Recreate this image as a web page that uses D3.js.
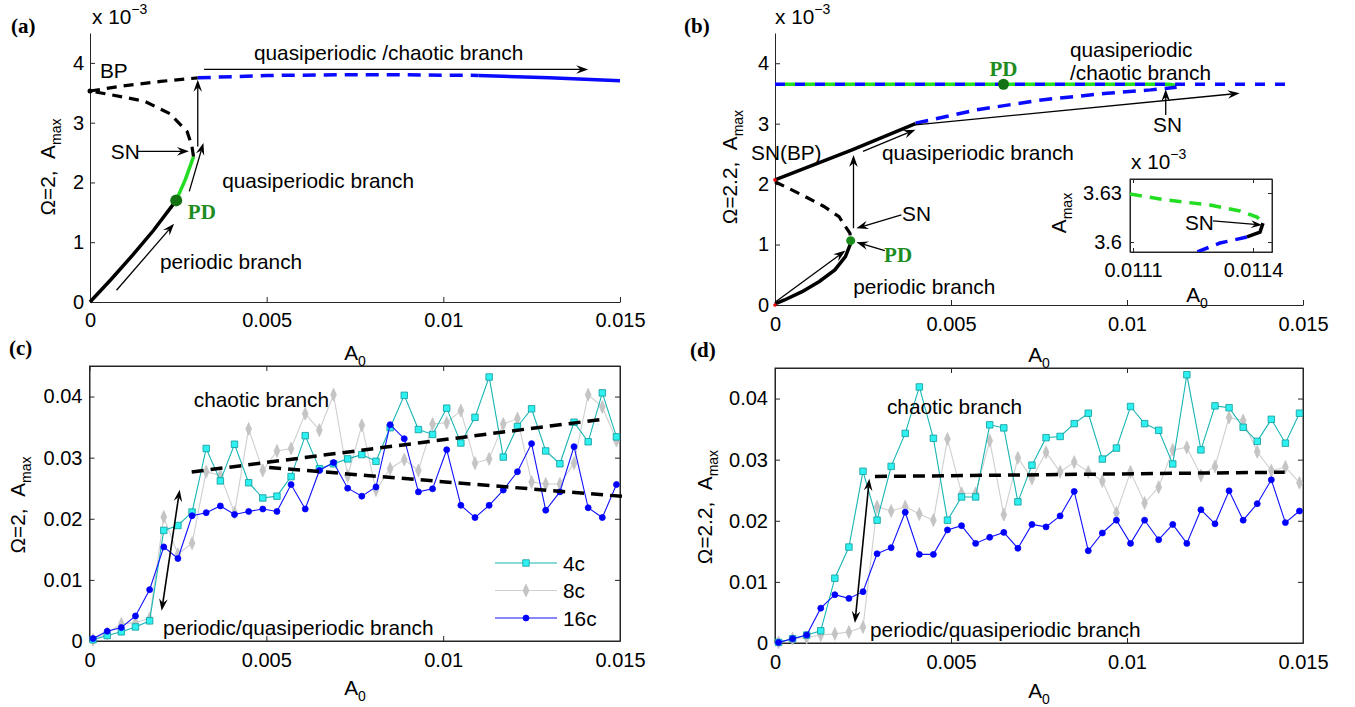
<!DOCTYPE html>
<html>
<head>
<meta charset="utf-8">
<script src="https://cdn.jsdelivr.net/npm/d3@7/dist/d3.min.js"></script>
<style>
  body { margin: 0; background: #fff; }
  svg { display: block; font-family: "Liberation Sans", Arial, sans-serif; }
  .tick text { font-size: 20px; fill: #000; font-family: "Liberation Sans", Arial, sans-serif; }
  .axis path, .axis line { stroke: #262626; }
  .note { font-size: 20.8px; fill: #000; }
  .plabel { font-family: "Liberation Serif", "Times New Roman", serif; font-weight: bold; font-size: 21px; }
  .pd { font-family: "Liberation Serif", "Times New Roman", serif; font-weight: bold; font-size: 21px; fill: #1e8c1e; }
</style>
</head>
<body>
<svg id="chart" width="1355" height="707"></svg>
<script>
// ---- tick values / labels ----
const xTicks = [0, 0.005, 0.01, 0.015];
const xTickLabels = ['0', '0.005', '0.01', '0.015'];
const yTicksTop = [0, 1, 2, 3, 4];               // units of 1e-3
const yTickLabelsTop = ['0', '1', '2', '3', '4'];
const yTicksBottom = [0, 0.01, 0.02, 0.03, 0.04];
const yTickLabelsBottom = ['0', '0.01', '0.02', '0.03', '0.04'];
const insetXTicks = [0.0111, 0.0114];
const insetXLabels = ['0.0111', '0.0114'];
const insetYTicks = [3.6, 3.63];
const insetYLabels = ['3.6', '3.63'];

// ---- panel (a): continuation branches, [A0, Amax*1e3] ----
const aPeriodic = [[0, 0], [0.0006, 0.38], [0.0012, 0.78], [0.0018, 1.2], [0.00244, 1.70]];
const aQuasi = [[0.00244, 1.70], [0.0027, 2.05], [0.00293, 2.43]];
const aUnstableLow = [[0.00293, 2.43], [0.00288, 2.62], [0.00275, 2.85], [0.00226, 3.15], [0.00154, 3.36], [0.00057, 3.47], [0, 3.53]];
const aUnstableUp = [[0, 3.53], [0.001, 3.62], [0.002, 3.69], [0.00305, 3.75]];
const aChaoticDash = [[0.00305, 3.75], [0.005, 3.79], [0.007, 3.80], [0.009, 3.80], [0.011, 3.79]];
const aChaoticSolid = [[0.011, 3.79], [0.013, 3.75], [0.015, 3.70]];
const aPD = [0.00244, 1.70];
const aArrows = [
    [[0.00075, 0.196], [0.00238, 1.31]],
    [[0.00281, 1.85], [0.00321, 2.66]],
    [[0.00305, 2.6], [0.00305, 3.72]],
    [[0.00135, 2.52], [0.0028, 2.52]],
    [[0.00323, 3.89], [0.0141, 3.89]]
];

// ---- panel (b) ----
const bPeriodic = [[0, 0.017], [0.00027, 0.083], [0.00077, 0.22], [0.00126, 0.39], [0.0017, 0.58], [0.002, 0.8], [0.00213, 0.99], [0.00215, 1.065]];
const bUnstable = [[0, 2.04], [0.00077, 1.82], [0.00139, 1.63], [0.00182, 1.46], [0.002, 1.297], [0.00213, 1.186], [0.00215, 1.076]];
const bUpper = [[0, 2.07], [0.00219, 2.566], [0.00399, 3.0]];
const bQuasiDash = [[0.00399, 3.007], [0.00572, 3.228], [0.00757, 3.393], [0.00943, 3.503], [0.01067, 3.559], [0.01141, 3.603]];
const bGreenFlat = [[0, 3.652], [0.0112, 3.652], [0.01141, 3.63]];
const bBlueFlat = [[0, 3.652], [0.0145, 3.652]];
const bPDLow = [0.00215, 1.065];
const bPDHigh = [0.00649, 3.652];
const bRedDots = [[0, 0], [0, 2.07]];
const bArrows = [
    [[0.00002, 0.055], [0.002, 0.90]],
    [[0.00312, 0.90], [0.00231, 1.04]],
    [[0.00359, 1.49], [0.00231, 1.27]],
    [[0.00223, 1.27], [0.00223, 2.48]],
    [[0.0025, 2.54], [0.00399, 2.90]],
    [[0.00399, 2.98], [0.0132, 3.503]],
    [[0.0111, 3.145], [0.0111, 3.57]]
];

// ---- inset of (b) ----
const iGreen = [[0.0110925, 3.6294], [0.011185, 3.6257], [0.0112925, 3.6227], [0.0113675, 3.619], [0.01141, 3.6153], [0.011425, 3.6116]];
const iBlack = [[0.011425, 3.6116], [0.0114175, 3.6061], [0.011385, 3.6031]];
const iBlue = [[0.011385, 3.6031], [0.0113175, 3.5994], [0.01126, 3.5939]];
const iArrow = [[0.0113, 3.613], [0.0114225, 3.6104]];

// ---- panels (c),(d): simulated maxima on the A0 grid ----
const a0Grid = [0.0001, 0.0005, 0.0009, 0.0013, 0.0017, 0.0021, 0.0025, 0.0029, 0.0033, 0.0037,
    0.0041, 0.0045, 0.0049, 0.0053, 0.0057, 0.0061, 0.0065, 0.0069, 0.0073, 0.0077,
    0.0081, 0.0085, 0.0089, 0.0093, 0.0097, 0.0101, 0.0105, 0.0109, 0.0113, 0.0117,
    0.0121, 0.0125, 0.0129, 0.0133, 0.0137, 0.0141, 0.0145, 0.0149];

const c4c = [0.0002, 0.0009, 0.0015, 0.0023, 0.0033, 0.0181, 0.0189, 0.0211, 0.0315, 0.0262,
    0.0322, 0.0259, 0.0234, 0.0237, 0.0269, 0.0336, 0.0282, 0.0290, 0.0298, 0.0305,
    0.0294, 0.0349, 0.0402, 0.0346, 0.0338, 0.0381, 0.0324, 0.0366, 0.0432, 0.0301,
    0.0351, 0.0380, 0.0311, 0.0290, 0.0358, 0.0326, 0.0406, 0.0334];
const c8c = [0.0002, 0.00125, 0.0028, 0.0030, 0.0037, 0.0203, 0.0142, 0.0160, 0.0277, 0.0271,
    0.0210, 0.0347, 0.0279, 0.0311, 0.0315, 0.0372, 0.0345, 0.0403, 0.0270, 0.0353,
    0.0247, 0.0282, 0.0297, 0.0279, 0.0355, 0.0357, 0.0377, 0.0291, 0.0298, 0.0355,
    0.0364, 0.0260, 0.0257, 0.0257, 0.0291, 0.0403, 0.0383, 0.0328];
const c16c = [0.0004, 0.0016, 0.0022, 0.0041, 0.0084, 0.0154, 0.0135, 0.0205, 0.0210, 0.0221,
    0.0207, 0.0212, 0.0216, 0.0212, 0.0256, 0.0216, 0.0279, 0.0292, 0.0250, 0.0237,
    0.0252, 0.0354, 0.0331, 0.0244, 0.0249, 0.0313, 0.0222, 0.0202, 0.0222, 0.0247,
    0.0277, 0.0323, 0.0214, 0.0244, 0.0318, 0.0218, 0.0202, 0.0256];
const cTrendUp = [[0.00289, 0.02765], [0.01447, 0.03625]];
const cTrendDown = [[0.00508, 0.0284], [0.0152, 0.0236]];
const cJump = [[0.00204, 0.00495], [0.00255, 0.02477]];

const d4c = [0.0001, 0.0007, 0.0013, 0.0020, 0.0106, 0.0157, 0.0281, 0.0201, 0.0289, 0.0343,
    0.0419, 0.0335, 0.0201, 0.0239, 0.0239, 0.0357, 0.0352, 0.0231, 0.0291, 0.0336,
    0.0338, 0.0359, 0.0376, 0.0301, 0.0319, 0.0387, 0.0359, 0.0348, 0.0293, 0.0439,
    0.0316, 0.0388, 0.0385, 0.0353, 0.0330, 0.0366, 0.0327, 0.0376];
const d8c = [0.0001, 0.0007, 0.0009, 0.0013, 0.0015, 0.0018, 0.0026, 0.0223, 0.0216, 0.0223,
    0.0211, 0.0201, 0.0334, 0.0245, 0.0245, 0.0331, 0.0210, 0.0303, 0.0269, 0.0312,
    0.0280, 0.0296, 0.0280, 0.0265, 0.0213, 0.0280, 0.0229, 0.0255, 0.0316, 0.0320,
    0.0274, 0.0289, 0.0369, 0.0364, 0.0313, 0.0282, 0.0288, 0.0262];
const d16c = [0.0001, 0.0007, 0.0013, 0.0057, 0.0079, 0.0073, 0.0084, 0.0146, 0.0156, 0.0214,
    0.0145, 0.0145, 0.0185, 0.0192, 0.0163, 0.0173, 0.0181, 0.0155, 0.0194, 0.0190,
    0.0208, 0.0248, 0.0151, 0.0180, 0.0201, 0.0163, 0.0201, 0.0169, 0.0194, 0.0163,
    0.0218, 0.0195, 0.0249, 0.0201, 0.0228, 0.0267, 0.0197, 0.0216];
const dTrend = [[0.00284, 0.02725], [0.01448, 0.02795]];
const dJump = [[0.00227, 0.00326], [0.00268, 0.02687]];

const seriesNames = ['4c', '8c', '16c'];

// ---- styles ----
const BLUE = '#0a0aff';
const GREEN = '#22dd22';
const DARKGREEN = '#137313';
const seriesStyle = {
    '4c': { line: '#17b5b5', fill: '#2ff0f0', edge: '#0f9a9a', shape: 'square' },
    '8c': { line: '#cfcfcf', fill: '#c4c4c4', edge: '#c4c4c4', shape: 'diamond' },
    '16c': { line: '#1010ff', fill: '#0000ff', edge: '#0000ff', shape: 'circle' }
};

const svg = d3.select('#chart');

// scales for each panel
const xa = d3.scaleLinear([0, 0.015], [90, 620]);
const ya = d3.scaleLinear([0, 4.5], [302, 33]);
const xb = d3.scaleLinear([0, 0.015], [775, 1303]);
const yb = d3.scaleLinear([0, 4.5], [305, 33]);
const xc = d3.scaleLinear([0, 0.015], [89.5, 620]);
const yc = d3.scaleLinear([0, 0.045], [641, 366]);
const xd = d3.scaleLinear([0, 0.015], [775, 1303]);
const yd = d3.scaleLinear([0, 0.045], [643, 368]);
const xi = d3.scaleLinear([0.0110925, 0.0114475], [1130, 1272]);
const yi = d3.scaleLinear([3.5939, 3.6386], [252, 179]);

/**
 * Axes: left + bottom, optionally a full box with inward ticks on all sides.
 */
function drawAxes(g, x, y, cfg) {
    const [y0, y1] = y.range();
    const [x0, x1] = x.range();
    const tick = cfg.tick || 5;

    if (cfg.box) {
        g.append('rect')
            .attr('x', x0).attr('y', y1)
            .attr('width', x1 - x0).attr('height', y0 - y1)
            .attr('fill', 'none').attr('stroke', '#262626');
        g.append('g').attr('class', 'axis')
            .attr('transform', `translate(0,${y1})`)
            .call(d3.axisTop(x).tickValues(cfg.xTicks).tickSizeInner(-tick).tickSizeOuter(0).tickFormat(''));
        g.append('g').attr('class', 'axis')
            .attr('transform', `translate(${x1},0)`)
            .call(d3.axisRight(y).tickValues(cfg.yTicks).tickSizeInner(-tick).tickSizeOuter(0).tickFormat(''));
    }

    g.append('g').attr('class', 'axis')
        .attr('transform', `translate(0,${y0})`)
        .call(d3.axisBottom(x).tickValues(cfg.xTicks)
            .tickFormat((d, i) => cfg.xLabels[i])
            .tickSizeInner(-tick).tickSizeOuter(0).tickPadding(cfg.xPad || 11));

    g.append('g').attr('class', 'axis')
        .attr('transform', `translate(${x0},0)`)
        .call(d3.axisLeft(y).tickValues(cfg.yTicks)
            .tickFormat((d, i) => cfg.yLabels[i])
            .tickSizeInner(-tick).tickSizeOuter(0).tickPadding(cfg.yPad || 6));
}

/**
 * Polyline through [x, y] pairs.
 */
function curve(g, x, y, pts, stroke, width, dash, offset) {
    return g.append('path')
        .datum(pts)
        .attr('d', d3.line().x(d => x(d[0])).y(d => y(d[1])))
        .attr('fill', 'none')
        .attr('stroke', stroke)
        .attr('stroke-width', width)
        .attr('stroke-dasharray', dash || null)
        .attr('stroke-dashoffset', offset || null);
}

/**
 * Matlab-like annotation arrow with swept back head.
 */
function arrow(g, x, y, seg, opts = {}) {
    const L = opts.head || 12;
    const W = L * 0.36;
    const p1 = [x(seg[0][0]), y(seg[0][1])];
    const p2 = [x(seg[1][0]), y(seg[1][1])];
    const len = Math.hypot(p2[0] - p1[0], p2[1] - p1[1]);
    const ux = (p2[0] - p1[0]) / len, uy = (p2[1] - p1[1]) / len;

    function head(tip, dx, dy) {
        const px = -dy, py = dx;
        const b = [tip[0] - L * dx, tip[1] - L * dy];
        const n = [tip[0] - 0.65 * L * dx, tip[1] - 0.65 * L * dy];
        g.append('path')
            .attr('d', `M${tip[0]},${tip[1]}L${b[0] + W * px},${b[1] + W * py}L${n[0]},${n[1]}L${b[0] - W * px},${b[1] - W * py}Z`)
            .attr('fill', '#000');
        return n;
    }

    const end = head(p2, ux, uy);
    const start = opts.double ? head(p1, -ux, -uy) : p1;
    g.append('line')
        .attr('x1', start[0]).attr('y1', start[1])
        .attr('x2', end[0]).attr('y2', end[1])
        .attr('stroke', '#000')
        .attr('stroke-width', opts.width || 1.3);
}

/**
 * Text with an optional sub- or superscript part.
 */
function richText(g, px, py, base, extra, opts = {}) {
    const t = g.append('text')
        .attr('class', opts.cls || 'note')
        .attr('x', px).attr('y', py)
        .attr('text-anchor', opts.anchor || 'start');
    if (opts.rotate) t.attr('transform', `rotate(-90,${px},${py})`);
    t.append('tspan').text(base);
    if (extra) {
        t.append('tspan')
            .attr('font-size', 14)
            .attr('dy', opts.sup ? -10 : 6)
            .text(extra);
    }
    return t;
}

function note(g, x, y, pos, str, cls) {
    return g.append('text')
        .attr('class', cls || 'note')
        .attr('x', x(pos[0])).attr('y', y(pos[1]))
        .attr('dominant-baseline', 'central')
        .text(str);
}

/* ================= panel (a) ================= */
const ga = svg.append('g');
drawAxes(ga, xa, ya, { xTicks, xLabels: xTickLabels, yTicks: yTicksTop, yLabels: yTickLabelsTop, xPad: 11, yPad: 6 });

curve(ga, xa, ya, aUnstableLow, '#000', 3.2, '10,7');
curve(ga, xa, ya, aUnstableUp, '#000', 3.2, '10,7');
curve(ga, xa, ya, aChaoticDash, BLUE, 3.5, '13,8');
curve(ga, xa, ya, aChaoticSolid, BLUE, 3.5);
curve(ga, xa, ya, aPeriodic, '#000', 3.5);
curve(ga, xa, ya, aQuasi, GREEN, 3.5);
ga.append('circle').attr('cx', xa(aPD[0])).attr('cy', ya(aPD[1])).attr('r', 6).attr('fill', DARKGREEN);
ga.append('circle').attr('cx', xa(0)).attr('cy', ya(3.53)).attr('r', 2.5).attr('fill', '#000');
aArrows.forEach(s => arrow(ga, xa, ya, s));

note(ga, xa, ya, [0.00028, 3.88], 'BP');
note(ga, xa, ya, [0.00464, 4.18], 'quasiperiodic /chaotic branch');
note(ga, xa, ya, [0.00059, 2.51], 'SN');
note(ga, xa, ya, [0.00374, 2.04], 'quasiperiodic branch');
note(ga, xa, ya, [0.00277, 1.51], 'PD', 'pd');
note(ga, xa, ya, [0.00198, 0.67], 'periodic branch');

svg.append('text').attr('class', 'plabel').attr('x', 11).attr('y', 33).text('(a)');
richText(svg, 92, 24, 'x 10', '−3', { sup: true });
richText(svg, 55, 167, 'Ω=2,  A', 'max', { rotate: true, anchor: 'middle' }).style('white-space', 'pre');
richText(svg, 355, 360, 'A', '0', { anchor: 'middle' });

/* ================= panel (b) ================= */
const gb = svg.append('g');
drawAxes(gb, xb, yb, { xTicks, xLabels: xTickLabels, yTicks: yTicksTop, yLabels: yTickLabelsTop, xPad: 12, yPad: 6 });

curve(gb, xb, yb, bBlueFlat, BLUE, 3.5, '10,10');
curve(gb, xb, yb, bGreenFlat, GREEN, 3.5, '10,10', 10);
curve(gb, xb, yb, bQuasiDash, BLUE, 3.5, '13,8');
curve(gb, xb, yb, bUnstable, '#000', 3.2, '10,7');
curve(gb, xb, yb, bUpper, '#000', 3.5);
curve(gb, xb, yb, bPeriodic, '#000', 3.5);
gb.selectAll('circle.red').data(bRedDots).join('circle')
    .attr('cx', d => xb(d[0])).attr('cy', d => yb(d[1])).attr('r', 1.8).attr('fill', '#e00');
gb.append('circle').attr('cx', xb(bPDLow[0])).attr('cy', yb(bPDLow[1])).attr('r', 4.5).attr('fill', '#1a8a1a');
gb.append('circle').attr('cx', xb(bPDHigh[0])).attr('cy', yb(bPDHigh[1])).attr('r', 5.5).attr('fill', DARKGREEN);
bArrows.forEach(s => arrow(gb, xb, yb, s));

gb.append('text').attr('class', 'pd').attr('text-anchor', 'middle')
    .attr('x', xb(bPDHigh[0])).attr('y', yb(3.905)).attr('dominant-baseline', 'central').text('PD');
note(gb, xb, yb, [0.00838, 4.22], 'quasiperiodic');
note(gb, xb, yb, [0.00838, 3.84], '/chaotic branch');
note(gb, xb, yb, [0.01074, 2.98], 'SN');
note(gb, xb, yb, [-0.00068, 2.515], 'SN(BP)');
note(gb, xb, yb, [0.00304, 2.515], 'quasiperiodic branch');
note(gb, xb, yb, [0.00361, 1.52], 'SN');
note(gb, xb, yb, [0.0031, 0.83], 'PD', 'pd');
note(gb, xb, yb, [0.00222, 0.31], 'periodic branch');

svg.append('text').attr('class', 'plabel').attr('x', 684).attr('y', 33).text('(b)');
richText(svg, 775, 24, 'x 10', '−3', { sup: true });
richText(svg, 737, 167, 'Ω=2.2,  A', 'max', { rotate: true, anchor: 'middle' }).style('white-space', 'pre');
richText(svg, 1039, 362, 'A', '0', { anchor: 'middle' });

// inset
const gi = svg.append('g');
gi.append('rect').attr('x', 1130).attr('y', 179).attr('width', 142).attr('height', 73).attr('fill', '#fff');
gi.append('clipPath').attr('id', 'insetClip')
    .append('rect').attr('x', 1130).attr('y', 179).attr('width', 142).attr('height', 73);
drawAxes(gi, xi, yi, { box: true, tick: 4, xTicks: insetXTicks, xLabels: insetXLabels, yTicks: insetYTicks, yLabels: insetYLabels, xPad: 11, yPad: 8 });
const gic = gi.append('g').attr('clip-path', 'url(#insetClip)');
curve(gic, xi, yi, iGreen, GREEN, 3.5, '12,8');
curve(gic, xi, yi, iBlack, '#000', 3.5);
curve(gic, xi, yi, iBlue, BLUE, 3.5, '12,8');
arrow(gi, xi, yi, iArrow, { head: 11 });
note(gi, xi, yi, [0.01123, 3.6117], 'SN');
richText(svg, 1131, 169, 'x 10', '−3', { sup: true });
richText(svg, 1066, 213, 'A', 'max', { rotate: true, anchor: 'middle' });
richText(svg, 1197, 302, 'A', '0', { anchor: 'middle' });

/* ================= panels (c) and (d) ================= */
function drawSeries(g, x, y, vals, name) {
    const st = seriesStyle[name];
    const pts = a0Grid.map((a, i) => [a, vals[i]]);
    curve(g, x, y, pts, st.line, 1.1);
    drawMarkers(g, pts.map(p => [x(p[0]), y(p[1])]), st);
}

function drawMarkers(g, pix, st) {
    const sym = st.shape === 'square' ? d3.symbolSquare : st.shape === 'diamond' ? d3.symbolDiamond : d3.symbolCircle;
    const size = st.shape === 'square' ? 42 : st.shape === 'diamond' ? 40 : 28;
    g.append('g').selectAll('path').data(pix).join('path')
        .attr('transform', d => `translate(${d[0]},${d[1]})` + (st.shape === 'diamond' ? ' scale(0.85,1.1)' : ''))
        .attr('d', d3.symbol(sym, size))
        .attr('fill', st.fill)
        .attr('stroke', st.edge)
        .attr('stroke-width', 0.8);
}

const gc = svg.append('g');
drawAxes(gc, xc, yc, { box: true, xTicks, xLabels: xTickLabels, yTicks: yTicksBottom, yLabels: yTickLabelsBottom, xPad: 12, yPad: 7 });
drawSeries(gc, xc, yc, c8c, '8c');
drawSeries(gc, xc, yc, c4c, '4c');
drawSeries(gc, xc, yc, c16c, '16c');
curve(gc, xc, yc, cTrendUp, '#000', 3.5, '12,7');
curve(gc, xc, yc, cTrendDown, '#000', 3.5, '12,7');
arrow(gc, xc, yc, cJump, { double: true, head: 12, width: 1.6 });
note(gc, xc, yc, [0.00295, 0.03944], 'chaotic branch');
note(gc, xc, yc, [0.00208, 0.00213], 'periodic/quasiperiodic branch');

// legend
seriesNames.forEach((name, i) => {
    const st = seriesStyle[name];
    const ly = 563 + i * 27.5;
    gc.append('line').attr('x1', 495).attr('x2', 557).attr('y1', ly).attr('y2', ly)
        .attr('stroke', st.line).attr('stroke-width', 1.1);
    drawMarkers(gc, [[526, ly]], st);
    gc.append('text').attr('class', 'note').attr('x', 563).attr('y', ly)
        .attr('dominant-baseline', 'central').text(name);
});

svg.append('text').attr('class', 'plabel').attr('x', 9).attr('y', 355).text('(c)');
richText(svg, 25, 505, 'Ω=2,  A', 'max', { rotate: true, anchor: 'middle' }).style('white-space', 'pre');
richText(svg, 355, 695, 'A', '0', { anchor: 'middle' });

const gd = svg.append('g');
drawAxes(gd, xd, yd, { box: true, xTicks, xLabels: xTickLabels, yTicks: yTicksBottom, yLabels: yTickLabelsBottom, xPad: 12, yPad: 7 });
drawSeries(gd, xd, yd, d8c, '8c');
drawSeries(gd, xd, yd, d4c, '4c');
drawSeries(gd, xd, yd, d16c, '16c');
curve(gd, xd, yd, dTrend, '#000', 3.5, '12,7');
arrow(gd, xd, yd, dJump, { double: true, head: 12, width: 1.6 });
note(gd, xd, yd, [0.00318, 0.03878], 'chaotic branch');
note(gd, xd, yd, [0.0027, 0.00229], 'periodic/quasiperiodic branch');

svg.append('text').attr('class', 'plabel').attr('x', 690).attr('y', 357).text('(d)');
richText(svg, 712, 507, 'Ω=2.2,  A', 'max', { rotate: true, anchor: 'middle' }).style('white-space', 'pre');
richText(svg, 1039, 698, 'A', '0', { anchor: 'middle' });
</script>
</body>
</html>
